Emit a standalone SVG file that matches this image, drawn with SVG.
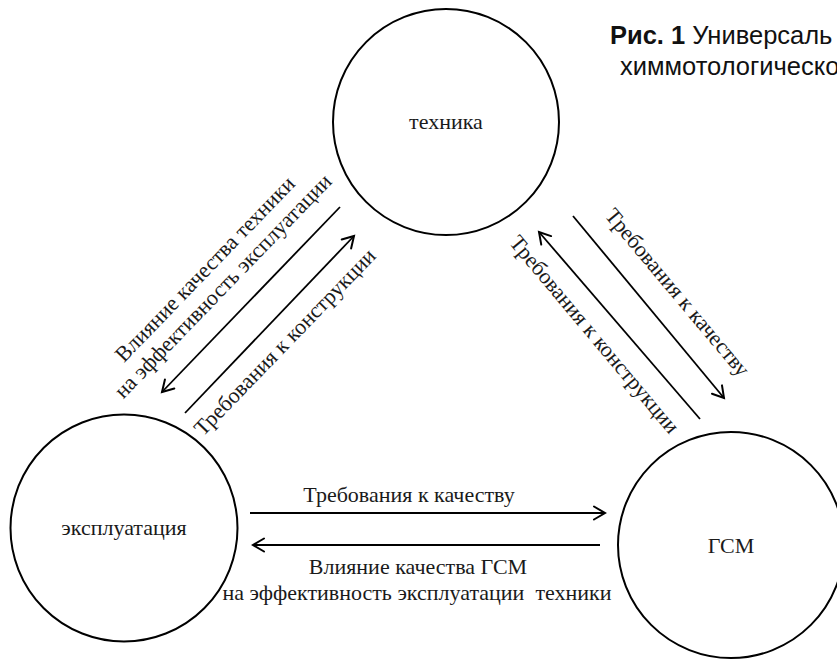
<svg xmlns="http://www.w3.org/2000/svg" width="837" height="659" viewBox="0 0 837 659">
<style>
.node{fill:#fff;stroke:#000;stroke-width:2}
.lbl{font-family:"Liberation Serif","Times New Roman",serif;font-size:22px;fill:#1a1a1a;text-anchor:middle}
.conn{stroke:#000;stroke-width:1.8;fill:none}
.title{font-family:"Liberation Sans",Arial,sans-serif;font-size:25.5px;fill:#111}
</style>
<defs>
<marker id="ah" markerUnits="userSpaceOnUse" markerWidth="16" markerHeight="16" refX="13" refY="8" orient="auto" viewBox="0 0 16 16">
<path d="M2,1.5 L13,8 L2,14.5" fill="none" stroke="#000" stroke-width="2" stroke-linecap="round" stroke-linejoin="miter"/>
</marker>
</defs>
<rect width="837" height="659" fill="#fff"/>
<g id="title">
<text class="title" x="610" y="44"><tspan font-weight="bold">Рис. 1</tspan> Универсаль</text>
<text class="title" x="620" y="75">химмотологическо</text>
</g>
<g id="node-tehnika">
<circle class="node" cx="446" cy="122" r="113"/>
<text class="lbl" x="446" y="129">техника</text>
</g>
<g id="node-ekspluataciya">
<circle class="node" cx="124" cy="528" r="113.5"/>
<text class="lbl" x="124" y="535">эксплуатация</text>
</g>
<g id="node-gsm">
<circle class="node" cx="731" cy="545" r="113"/>
<text class="lbl" x="731" y="553">ГСМ</text>
</g>
<g id="connectors">
<line class="conn" x1="340" y1="207" x2="162" y2="392" marker-end="url(#ah)"/>
<line class="conn" x1="185" y1="413" x2="354" y2="236" marker-end="url(#ah)"/>
<line class="conn" x1="573" y1="216" x2="724" y2="398" marker-end="url(#ah)"/>
<line class="conn" x1="700" y1="419" x2="539" y2="232" marker-end="url(#ah)"/>
<line class="conn" x1="250" y1="513" x2="605" y2="513" marker-end="url(#ah)"/>
<line class="conn" x1="600" y1="545" x2="253" y2="545" marker-end="url(#ah)"/>
</g>
<g id="labels">
<text class="lbl" transform="translate(210,274) rotate(-46)">Влияние качества техники</text>
<text class="lbl" transform="translate(228,291) rotate(-46)">на эффективность эксплуатации</text>
<text class="lbl" transform="translate(290,347) rotate(-46)">Требования к конструкции</text>
<text class="lbl" transform="translate(672,297) rotate(50)">Требования к качеству</text>
<text class="lbl" transform="translate(589,339) rotate(50)">Требования к конструкции</text>
<text class="lbl" x="409" y="502">Требования к качеству</text>
<text class="lbl" x="418" y="574">Влияние качества ГСМ</text>
<text class="lbl" x="417" y="600" xml:space="preserve">на эффективность эксплуатации  техники</text>
</g>
</svg>
